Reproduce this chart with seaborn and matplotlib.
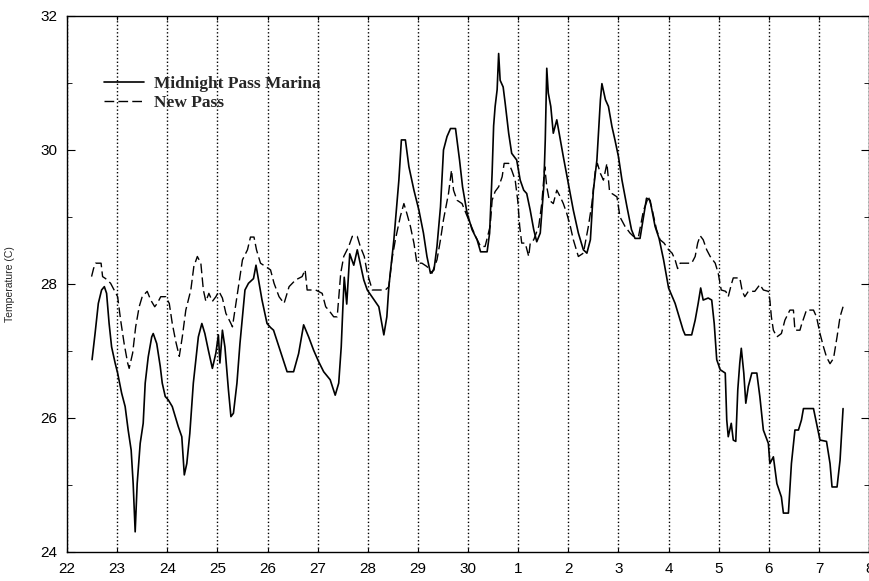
import pandas as pd
import seaborn as sns
import matplotlib
matplotlib.use("Agg")
import matplotlib.pyplot as plt
from matplotlib.ticker import MultipleLocator

# x is days since the 22nd (22 .. 30, then 1 .. 8 of next month)
marina_day = [0.50, 0.56, 0.625, 0.69, 0.745, 0.79, 0.84, 0.89, 0.96, 1.01, 1.09, 1.16, 1.22, 1.28, 1.32,
              1.36, 1.40, 1.46, 1.52, 1.56, 1.62, 1.69, 1.72, 1.79, 1.86, 1.90, 1.96, 2.02, 2.10, 2.16,
              2.22, 2.29, 2.34, 2.39, 2.45, 2.52, 2.62, 2.69, 2.75, 2.82, 2.90, 2.97, 3.02, 3.05, 3.10,
              3.15, 3.22, 3.27, 3.32, 3.39, 3.45, 3.52, 3.55, 3.62, 3.72, 3.77, 3.82, 3.89, 3.99, 4.06,
              4.12, 4.25, 4.39, 4.52, 4.62, 4.72, 4.82, 4.92, 5.02, 5.12, 5.25, 5.35, 5.42, 5.47, 5.50,
              5.53, 5.58, 5.64, 5.72, 5.79, 5.92, 5.99, 6.22, 6.32, 6.38, 6.42, 6.52, 6.62, 6.67, 6.75,
              6.82, 6.92, 7.02, 7.11, 7.18, 7.25, 7.32, 7.38, 7.45, 7.51, 7.58, 7.65, 7.75, 7.83, 7.89,
              7.98, 8.08, 8.18, 8.25, 8.38, 8.43, 8.48, 8.51, 8.54, 8.58, 8.61, 8.64, 8.70, 8.74, 8.81,
              8.87, 8.97, 9.04, 9.11, 9.17, 9.24, 9.31, 9.37, 9.44, 9.51, 9.54, 9.57, 9.60, 9.65, 9.70,
              9.77, 9.84, 9.90, 10.00, 10.10, 10.20, 10.30, 10.37, 10.44, 10.50, 10.57, 10.64, 10.67,
              10.74, 10.80, 10.87, 10.93, 11.00, 11.07, 11.17, 11.26, 11.33, 11.43, 11.50, 11.56, 11.63,
              11.73, 11.81, 11.90, 12.00, 12.13, 12.23, 12.29, 12.33, 12.46, 12.53, 12.59, 12.64, 12.69,
              12.79, 12.86, 12.91, 12.96, 13.03, 13.13, 13.16, 13.19, 13.25, 13.29, 13.34, 13.38, 13.42,
              13.45, 13.50, 13.54, 13.59, 13.66, 13.76, 13.82, 13.89, 13.99, 14.02, 14.09, 14.16, 14.25,
              14.29, 14.39, 14.45, 14.52, 14.59, 14.65, 14.69, 14.89, 14.95, 15.02, 15.15, 15.22, 15.26,
              15.36, 15.42, 15.48]
marina_temp = [26.87, 27.26, 27.71, 27.91, 27.96, 27.86, 27.41, 27.06, 26.82, 26.67, 26.37, 26.17, 25.82, 25.52, 25.02,
               24.30, 25.02, 25.62, 25.92, 26.52, 26.91, 27.21, 27.26, 27.11, 26.77, 26.52, 26.32, 26.27, 26.17, 26.02,
               25.87, 25.72, 25.15, 25.32, 25.77, 26.52, 27.21, 27.41, 27.26, 27.01, 26.74, 26.97, 27.24, 26.82, 27.31,
               27.06, 26.42, 26.02, 26.07, 26.52, 27.11, 27.66, 27.91, 28.01, 28.08, 28.28, 28.06, 27.76, 27.41, 27.35,
               27.31, 27.01, 26.69, 26.69, 26.96, 27.39, 27.21, 27.01, 26.84, 26.69, 26.57, 26.34, 26.52, 27.06, 27.60,
               28.10, 27.70, 28.45, 28.28, 28.51, 28.06, 27.91, 27.66, 27.24, 27.51, 27.96, 28.66, 29.55, 30.15, 30.15,
               29.75, 29.40, 29.10, 28.76, 28.41, 28.16, 28.21, 28.56, 29.15, 30.00, 30.20, 30.32, 30.32, 29.85, 29.45,
               29.06, 28.81, 28.66, 28.48, 28.48, 28.76, 29.66, 30.36, 30.65, 30.90, 31.44, 31.04, 30.94, 30.70, 30.25,
               29.95, 29.85, 29.55, 29.40, 29.35, 29.10, 28.81, 28.63, 28.76, 29.45, 30.15, 31.22, 30.85, 30.65, 30.25,
               30.45, 30.15, 29.90, 29.50, 29.10, 28.76, 28.51, 28.46, 28.66, 29.40, 29.85, 30.75, 30.99,
               30.75, 30.65, 30.35, 30.15, 29.90, 29.55, 29.15, 28.81, 28.68, 28.68, 29.00, 29.28, 29.25,
               28.86, 28.68, 28.36, 27.94, 27.71, 27.46, 27.31, 27.24, 27.24, 27.46, 27.71, 27.94, 27.76,
               27.79, 27.76, 27.41, 26.87, 26.72, 26.67, 25.97, 25.72, 25.92, 25.67, 25.65, 26.42, 26.82,
               27.04, 26.67, 26.22, 26.47, 26.67, 26.67, 26.32, 25.82, 25.62, 25.32, 25.42, 25.02, 24.82,
               24.58, 24.58, 25.32, 25.82, 25.82, 25.97, 26.14, 26.14, 25.92, 25.67, 25.65, 25.32, 24.97,
               24.97, 25.37, 26.14]

newpass_day = [0.49, 0.53, 0.57, 0.68, 0.71, 0.77, 0.87, 0.94, 1.01, 1.07, 1.14, 1.21, 1.24, 1.31, 1.37,
               1.44, 1.50, 1.60, 1.67, 1.75, 1.80, 1.87, 1.97, 2.04, 2.10, 2.17, 2.24, 2.30, 2.37, 2.47,
               2.53, 2.60, 2.67, 2.72, 2.77, 2.83, 2.90, 2.97, 3.03, 3.10, 3.17, 3.27, 3.30, 3.36, 3.43,
               3.50, 3.60, 3.66, 3.73, 3.78, 3.86, 3.96, 4.06, 4.13, 4.23, 4.33, 4.43, 4.56, 4.69, 4.75,
               4.79, 4.96, 5.09, 5.16, 5.22, 5.32, 5.39, 5.46, 5.52, 5.62, 5.69, 5.79, 5.85, 5.93, 5.99,
               6.09, 6.35, 6.42, 6.48, 6.55, 6.65, 6.72, 6.78, 6.85, 6.92, 6.98, 7.08, 7.18, 7.28, 7.38,
               7.45, 7.51, 7.61, 7.67, 7.71, 7.78, 7.88, 8.01, 8.15, 8.25, 8.34, 8.44, 8.48, 8.54, 8.61,
               8.68, 8.72, 8.81, 8.87, 8.94, 8.99, 9.03, 9.07, 9.14, 9.21, 9.24, 9.31, 9.41, 9.47, 9.53,
               9.57, 9.62, 9.70, 9.77, 9.84, 9.90, 9.97, 10.04, 10.10, 10.20, 10.30, 10.40, 10.47, 10.54,
               10.58, 10.64, 10.70, 10.77, 10.82, 10.87, 10.97, 11.03, 11.13, 11.23, 11.30, 11.40, 11.50,
               11.60, 11.66, 11.76, 11.83, 11.91, 12.00, 12.07, 12.13, 12.18, 12.23, 12.46, 12.53, 12.58,
               12.63, 12.69, 12.76, 12.83, 12.93, 12.99, 13.05, 13.14, 13.19, 13.25, 13.29, 13.42, 13.47,
               13.52, 13.59, 13.72, 13.82, 13.89, 13.99, 14.02, 14.05, 14.09, 14.16, 14.25, 14.32, 14.42,
               14.49, 14.52, 14.62, 14.65, 14.75, 14.89, 14.95, 15.02, 15.09, 15.15, 15.22, 15.29, 15.36,
               15.42, 15.48]
newpass_temp = [28.11, 28.23, 28.31, 28.31, 28.11, 28.08, 28.01, 27.91, 27.81, 27.46, 27.11, 26.82, 26.74, 26.97, 27.36,
                27.66, 27.81, 27.89, 27.76, 27.66, 27.71, 27.81, 27.81, 27.71, 27.41, 27.14, 26.92, 27.21, 27.61, 27.91,
                28.26, 28.41, 28.31, 27.91, 27.74, 27.86, 27.74, 27.81, 27.89, 27.79, 27.56, 27.41, 27.36, 27.66, 28.01,
                28.36, 28.51, 28.70, 28.70, 28.51, 28.31, 28.26, 28.21, 28.01, 27.81, 27.71, 27.96, 28.06, 28.11, 28.21,
                27.91, 27.91, 27.86, 27.66, 27.61, 27.51, 27.51, 28.16, 28.41, 28.56, 28.71, 28.71, 28.56, 28.41, 28.16,
                27.91, 27.91, 27.96, 28.36, 28.66, 29.01, 29.20, 29.05, 28.86, 28.61, 28.31, 28.31, 28.26, 28.16, 28.36,
                28.66, 28.96, 29.35, 29.70, 29.40, 29.25, 29.20, 28.96, 28.71, 28.56, 28.56, 28.86, 29.25, 29.38, 29.45,
                29.60, 29.80, 29.80, 29.70, 29.55, 29.25, 28.86, 28.61, 28.61, 28.41, 28.61, 28.66, 28.86, 29.20, 29.75,
                29.45, 29.25, 29.20, 29.40, 29.30, 29.20, 29.05, 28.86, 28.66, 28.41, 28.46, 28.86, 29.20, 29.70,
                29.80, 29.65, 29.55, 29.80, 29.40, 29.35, 29.30, 29.00, 28.86, 28.76, 28.71, 28.71, 29.10,
                29.30, 29.15, 28.81, 28.66, 28.61, 28.51, 28.46, 28.36, 28.23, 28.31, 28.31, 28.41, 28.61,
                28.72, 28.66, 28.51, 28.41, 28.31, 28.16, 27.91, 27.89, 27.81, 27.99, 28.09, 28.09, 27.89,
                27.81, 27.89, 27.89, 27.99, 27.91, 27.89, 27.76, 27.51, 27.31, 27.21, 27.26, 27.46, 27.61,
                27.61, 27.31, 27.31, 27.39, 27.61, 27.61, 27.51, 27.26, 27.06, 26.91, 26.81, 26.89, 27.21,
                27.51, 27.66]

day_labels = ["22", "23", "24", "25", "26", "27", "28", "29", "30",
              "1", "2", "3", "4", "5", "6", "7", "8"]

sns.set_style("ticks")
plt.rcParams["font.family"] = ["Liberation Sans", "DejaVu Sans"]

fig = plt.figure(figsize=(8.7, 5.81), dpi=100)
ax = fig.add_axes([0.077, 0.05, 0.922, 0.9225])

marina = pd.DataFrame({"day": marina_day, "temp": marina_temp})
newpass = pd.DataFrame({"day": newpass_day, "temp": newpass_temp})

sns.lineplot(data=marina, x="day", y="temp", ax=ax, color="black", linewidth=1.2,
             label="Midnight Pass Marina", estimator=None, sort=False)
sns.lineplot(data=newpass, x="day", y="temp", ax=ax, color="black", linewidth=1.0,
             label="New Pass", estimator=None, sort=False)
ax.lines[1].set_dashes((7, 3))

ax.set_xlim(0, 16)
ax.set_ylim(24, 32)
ax.set_xticks(range(len(day_labels)))
ax.set_xticklabels(day_labels)
ax.set_yticks([24, 26, 28, 30, 32])
ax.yaxis.set_minor_locator(MultipleLocator(1))

ax.grid(axis="x", color="black", linestyle=":", linewidth=1.0)
for s in ax.spines.values():
    s.set_color("black")
    s.set_linewidth(1.0)

ax.tick_params(axis="both", which="both", direction="in", top=True, right=True,
               colors="black", labelsize=11, pad=7)
ax.tick_params(axis="y", which="major", length=6)
ax.tick_params(axis="y", which="minor", length=3.5)
ax.tick_params(axis="x", which="major", length=3)

ax.set_xlabel("")
ax.set_ylabel("Temperature (C)", fontsize=7.5)
ax.yaxis.set_label_coords(-0.065, 0.5)

leg = ax.legend(loc="upper left", bbox_to_anchor=(0.027, 0.918), frameon=False,
                handlelength=2.3, handletextpad=0.55, labelspacing=0.2,
                prop={"family": "Liberation Serif", "weight": "bold", "size": 12.5})

fig.savefig("out.png", dpi=100)
